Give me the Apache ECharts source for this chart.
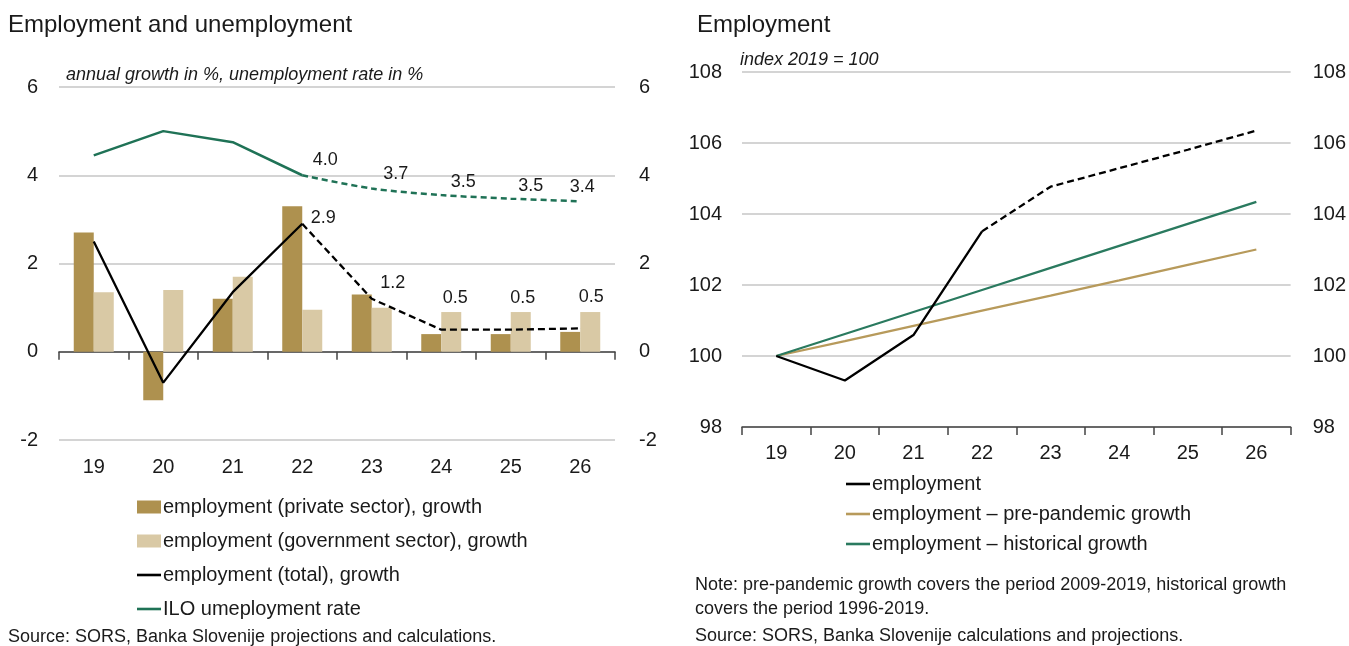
<!DOCTYPE html>
<html><head><meta charset="utf-8">
<script src="https://cdn.jsdelivr.net/npm/echarts@6/dist/echarts.min.js"></script>
<style>html,body{margin:0;padding:0;background:#fff}#c{width:1349px;height:646px}</style>
</head><body><div id="c"></div>
<script>
const years = ['19','20','21','22','23','24','25','26'];
const privateGrowth = [2.7, -1.1, 1.2, 3.3, 1.3, 0.4, 0.4, 0.45];
const govGrowth = [1.35, 1.4, 1.7, 0.95, 1.0, 0.9, 0.9, 0.9];
const totalGrowth = [2.5, -0.7, 1.35, 2.9, 1.2, 0.5, 0.5, 0.53];
const iloRate = [4.45, 5.0, 4.75, 4.0, 3.7, 3.55, 3.47, 3.41];
const iloLabels = ['', '', '', '4.0', '3.7', '3.5', '3.5', '3.4'];
const totalLabels = ['', '', '', '2.9', '1.2', '0.5', '0.5', '0.5'];
const employmentIndex = [100, 99.31, 100.59, 103.51, 104.77, 105.29, 105.81, 106.35];
const prePandemic = [100, 100.42, 100.85, 101.28, 101.70, 102.13, 102.57, 103.0];
const historical = [100, 100.62, 101.24, 101.86, 102.48, 103.1, 103.72, 104.34];
const leftTicks = [-2, 0, 2, 4, 6];
const rightTicks = [98, 100, 102, 104, 106, 108];
const splitIdx = 3; // projections start after 2022

// label placement (style, not data)
const iloLabelOffsets = [[0,0],[0,0],[0,0],[23,-15],[24,-14],[22,-13],[20,-13],[2,-14]];
const totalLabelOffsets = [[0,0],[0,0],[0,0],[21,-6],[21,-16],[14,-32],[12,-32],[11,-31]];

const FONT = '"Liberation Sans", Arial, sans-serif';
const TXT = '#1a1a1a';
function solidPart(a){ return a.map((v,i)=> i<=splitIdx ? v : null); }
function dashPart(a){ return a.map((v,i)=> i>=splitIdx ? v : null); }
function labelled(a, labels, offs){
  return a.map((v,i)=> i<splitIdx ? null : {value:v, label:{show:!!labels[i], formatter:labels[i], offset:offs[i]}});
}

const chart = echarts.init(document.getElementById('c'), null, {renderer:'canvas'});
const yLab = {fontSize:20, color:TXT, fontFamily:FONT};
const gridLine = {show:true, lineStyle:{color:'#c6c6c6', width:1.5}};
const lineIcon = 'path://M0,0H24V2.6H0Z';
const labelBase = {show:true, position:'inside', fontSize:18, color:TXT, fontFamily:FONT};

chart.setOption({
  animation:false,
  textStyle:{fontFamily:FONT, color:TXT},
  title:[
    {text:'Employment and unemployment', left:8, top:13, padding:0, textStyle:{fontSize:24, fontWeight:'normal', color:TXT, fontFamily:FONT}},
    {text:'Employment', left:697, top:13, padding:0, textStyle:{fontSize:24, fontWeight:'normal', color:TXT, fontFamily:FONT}}
  ],
  graphic:[
    {type:'text', left:66, top:66, style:{text:'annual growth in %, unemployment rate in %', font:'italic 18px '+FONT, fill:TXT}},
    {type:'text', left:740, top:51, style:{text:'index 2019 = 100', font:'italic 18px '+FONT, fill:TXT}},
    {type:'text', left:8, top:628, style:{text:'Source: SORS, Banka Slovenije projections and calculations.', font:'18px '+FONT, fill:TXT}},
    {type:'text', left:695, top:576, style:{text:'Note: pre-pandemic growth covers the period 2009-2019, historical growth', font:'18px '+FONT, fill:TXT}},
    {type:'text', left:695, top:600, style:{text:'covers the period 1996-2019.', font:'18px '+FONT, fill:TXT}},
    {type:'text', left:695, top:627, style:{text:'Source: SORS, Banka Slovenije calculations and projections.', font:'18px '+FONT, fill:TXT}}
  ],
  legend:[
    {orient:'vertical', left:137, top:497, padding:0, itemGap:14, itemWidth:24, itemHeight:13,
     textStyle:{fontSize:20, lineHeight:20, color:TXT, fontFamily:FONT, padding:[0,0,0,-3]},
     data:[{name:'employment (private sector), growth', icon:'rect'},
           {name:'employment (government sector), growth', icon:'rect'},
           {name:'employment (total), growth', icon:lineIcon},
           {name:'ILO umeployment rate', icon:lineIcon}]},
    {orient:'vertical', left:846, top:474, padding:0, itemGap:10, itemWidth:24, itemHeight:13,
     textStyle:{fontSize:20, lineHeight:20, color:TXT, fontFamily:FONT, padding:[0,0,0,-3]},
     data:[{name:'employment', icon:lineIcon},
           {name:'employment – pre-pandemic growth', icon:lineIcon},
           {name:'employment – historical growth', icon:lineIcon}]}
  ],
  grid:[
    {left:59, right:734, top:87, bottom:206},
    {left:742, right:58, top:72, bottom:219}
  ],
  xAxis:[
    {type:'category', gridIndex:0, data:years, position:'bottom',
     axisLine:{show:false, onZero:false}, axisTick:{show:false},
     axisLabel:{fontSize:20, color:TXT, fontFamily:FONT, margin:17}},
    {type:'category', gridIndex:0, data:years, position:'top',
     axisLine:{show:true, onZero:true, lineStyle:{color:'#444', width:1.5}},
     axisTick:{show:true, inside:true, length:8, lineStyle:{color:'#444', width:1.5}},
     axisLabel:{show:false}},
    {type:'category', gridIndex:1, data:years,
     axisLine:{show:true, onZero:false, lineStyle:{color:'#444', width:1.5}},
     axisTick:{show:true, length:8, lineStyle:{color:'#444', width:1.5}},
     axisLabel:{fontSize:20, color:TXT, fontFamily:FONT, margin:16}}
  ],
  yAxis:[
    {type:'value', gridIndex:0, min:leftTicks[0], max:leftTicks[leftTicks.length-1], interval:2, position:'left',
     axisLine:{show:false}, axisTick:{show:false}, axisLabel:Object.assign({margin:21}, yLab), splitLine:gridLine},
    {type:'value', gridIndex:0, min:leftTicks[0], max:leftTicks[leftTicks.length-1], interval:2, position:'right',
     axisLine:{show:false}, axisTick:{show:false}, axisLabel:Object.assign({margin:24}, yLab), splitLine:{show:false}},
    {type:'value', gridIndex:1, min:rightTicks[0], max:rightTicks[rightTicks.length-1], interval:2, position:'left',
     axisLine:{show:false}, axisTick:{show:false}, axisLabel:Object.assign({margin:20}, yLab), splitLine:gridLine},
    {type:'value', gridIndex:1, min:rightTicks[0], max:rightTicks[rightTicks.length-1], interval:2, position:'right',
     axisLine:{show:false}, axisTick:{show:false}, axisLabel:Object.assign({margin:22}, yLab), splitLine:{show:false}}
  ],
  series:[
    {name:'employment (private sector), growth', type:'bar', xAxisIndex:0, yAxisIndex:0, data:privateGrowth,
     barWidth:20, barGap:'0%', itemStyle:{color:'#AE914F'}},
    {name:'employment (government sector), growth', type:'bar', xAxisIndex:0, yAxisIndex:0, data:govGrowth,
     barWidth:20, barGap:'0%', itemStyle:{color:'#D9C9A5'}},
    {name:'employment (total), growth', type:'line', xAxisIndex:0, yAxisIndex:0, data:solidPart(totalGrowth),
     symbol:'none', lineStyle:{color:'#000', width:2.3}, itemStyle:{color:'#000'}, z:5},
    {name:'total-proj', type:'line', xAxisIndex:0, yAxisIndex:0, data:labelled(totalGrowth, totalLabels, totalLabelOffsets),
     symbol:'circle', symbolSize:0.1, showSymbol:true, lineStyle:{color:'#000', width:2.3, type:[7,4]}, itemStyle:{color:'#000'}, z:5,
     label:labelBase},
    {name:'ILO umeployment rate', type:'line', xAxisIndex:0, yAxisIndex:0, data:solidPart(iloRate),
     symbol:'none', lineStyle:{color:'#1F7256', width:2.5}, itemStyle:{color:'#1F7256'}, z:5},
    {name:'ilo-proj', type:'line', xAxisIndex:0, yAxisIndex:0, data:labelled(iloRate, iloLabels, iloLabelOffsets), smooth:0.3,
     symbol:'circle', symbolSize:0.1, showSymbol:true, lineStyle:{color:'#1F7256', width:2.5, type:[6,4]}, itemStyle:{color:'#1F7256'}, z:5,
     label:labelBase},
    {name:'employment', type:'line', xAxisIndex:2, yAxisIndex:2, data:solidPart(employmentIndex),
     symbol:'none', lineStyle:{color:'#000', width:2.3}, itemStyle:{color:'#000'}, z:5},
    {name:'employment-proj', type:'line', xAxisIndex:2, yAxisIndex:2, data:dashPart(employmentIndex),
     symbol:'none', lineStyle:{color:'#000', width:2.3, type:[7,4]}, itemStyle:{color:'#000'}, z:5},
    {name:'employment – pre-pandemic growth', type:'line', xAxisIndex:2, yAxisIndex:2, data:prePandemic,
     symbol:'none', lineStyle:{color:'#B79A5B', width:2.3}, itemStyle:{color:'#B79A5B'}, z:3},
    {name:'employment – historical growth', type:'line', xAxisIndex:2, yAxisIndex:2, data:historical,
     symbol:'none', lineStyle:{color:'#2A7A5F', width:2.3}, itemStyle:{color:'#2A7A5F'}, z:4}
  ]
});
</script></body></html>
